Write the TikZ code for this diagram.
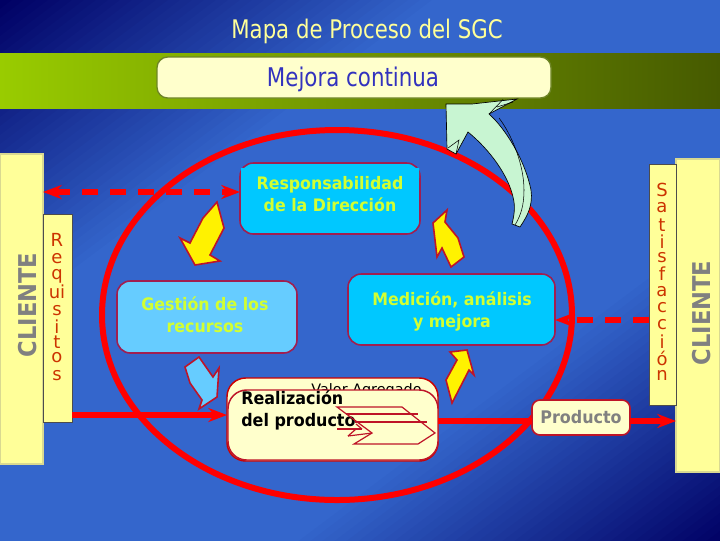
\documentclass[tikz,border=0pt]{standalone}
\usepackage{fontspec}
\usetikzlibrary{shapes.geometric,arrows.meta}
\setmainfont{DejaVu Sans}
\newfontfamily\condf[FakeStretch=0.83]{DejaVu Sans}
\newfontfamily\boldf[FakeStretch=0.92]{DejaVu Sans Bold}
\definecolor{navy}{RGB}{0,0,100}
\definecolor{midblue}{RGB}{52,102,204}
\definecolor{lime}{RGB}{153,204,0}
\definecolor{olive}{RGB}{70,90,0}
\definecolor{cream}{RGB}{255,255,204}
\definecolor{pale}{RGB}{255,255,153}
\definecolor{cyanb}{RGB}{0,200,255}
\definecolor{skyb}{RGB}{102,204,255}
\definecolor{edge}{RGB}{160,30,80}
\definecolor{rline}{RGB}{255,0,0}
\definecolor{crim}{RGB}{190,20,40}
\definecolor{ytext}{RGB}{210,255,50}
\definecolor{letter}{RGB}{204,51,0}
\definecolor{mint}{RGB}{200,245,210}
\tikzset{
  x=0.75pt,y=-0.75pt,
  sz/.style 2 args={minimum width=#1*0.75pt,minimum height=#2*0.75pt,inner sep=0pt,outer sep=0pt},
  procbox/.style={draw=edge,line width=1.2pt,rounded corners=10pt},
  proctxt/.style={align=center,text=ytext,inner sep=0pt,font=\boldf\fontsize{12.9}{16.4}\selectfont},
  clientbar/.style={draw=pale!70!gray,fill=pale,line width=0.8pt},
  sidebar/.style={draw=black!70,fill=pale,line width=0.6pt},
  clienttxt/.style={rotate=90,text=gray,inner sep=0pt,font=\boldf\fontsize{18.4}{20}\selectfont},
  letr/.style={text=letter,inner sep=0pt,font=\fontsize{13.5}{14}\selectfont},
  redline/.style={draw=rline,line width=4pt},
  headtip/.style={-{Stealth[length=14pt,width=10.5pt]}},
  bothtip/.style={{Stealth[length=14pt,width=10.5pt]}-{Stealth[length=14pt,width=10.5pt]}},
  dashline/.style={dash pattern=on 12pt off 9pt},
  yarrow/.style={fill=yellow,draw=crim,line width=1.2pt,line join=miter},
  barrow/.style={fill=skyb,draw=crim,line width=1.2pt},
  chev/.style={draw=crim,line width=0.9pt},
}
\begin{document}
\begin{tikzpicture}
\useasboundingbox (0,0) rectangle (720,540);
% background: diagonal gradient with iso-lines parallel to the anti-diagonal
\begin{scope}
\clip (0,0) rectangle (720,540);
\fill[navy] (0,0) rectangle (720,540);
\foreach \i in {1,...,120}{
  \pgfmathsetmacro{\tt}{\i/120}
  \pgfmathsetmacro{\mixv}{100*min(1,min(\tt,1-\tt)/0.3)}
  \pgfmathsetmacro{\xe}{1440*\tt}
  \pgfmathsetmacro{\ye}{1080*\tt}
  \colorlet{stripc}{midblue!\mixv!navy}
  \fill[stripc] (\xe,0) -- (1500,0) -- (1500,1200) -- (0,1200) -- (0,\ye) -- cycle;
}
\end{scope}
% band
\path[left color=lime,right color=olive] (0,53) rectangle (720,108);
\node (title) at (367,31.5) [text=pale,font=\condf\fontsize{19.2}{20}\selectfont] {Mapa de Proceso del SGC};
\node (mejora) at (354,77.5) [sz={394}{41},fill=cream,draw=olive!60!lime!70!gray,line width=1pt,rounded corners=8pt] {};
\node (mejtxt) at (353,79.5) [text={rgb,255:red,50;green,50;blue,190},font=\condf\fontsize{19.3}{20}\selectfont] {Mejora continua};
% ring
\node (ring) at (337,315) [ellipse,sz={470}{370},draw=rline,line width=4.5pt] {};
% boxes
\node (cliL) at (21.5,309) [sz={43}{310},clientbar] {};
\node (cliR) at (698,315.5) [sz={44}{313},clientbar] {};
\node (req) at (57.5,318) [sz={29}{208},sidebar] {};
\node (sat) at (662.5,284.5) [sz={27}{241},sidebar] {};
\node at (28,305) [clienttxt] {CLIENTE};
\node at (701.5,313) [clienttxt] {CLIENTE};
\foreach \l/\yy in {R/240,e/259,q/276,ui/292,s/311,i/327,t/342,o/358,s/376}
  \node at (57,\yy) [letr] {\l};
\foreach \l/\yy in {S/190,a/208,t/225,i/242,s/258,f/274,a/292,c/308,c/325,i/342,ó/358,n/375}
  \node at (662,\yy) [letr] {\l};
\node (real) at (332.5,419.5) [sz={211}{83},fill=cream,draw=rline!80!black,line width=1.1pt,rounded corners=14pt] {};
\node (valor) at (366.5,391) [text=black,font=\fontsize{10.8}{13}\selectfont,inner sep=0pt] {Valor Agregado};
\node (real2) at (333,425) [sz={210}{70},fill=cream,draw=crim,line width=1.1pt,rounded corners=14pt] {};
\node (resp) at (330,198.5) [sz={180}{71},procbox,fill=cyanb] {};
\path[fill=cyanb] (241,168) rectangle (250,178) (410,168) rectangle (419,178);
\node (resptxt) at (330,194) [proctxt] {Responsabilidad\\de la Dirección};
\node (gest) at (207,317) [sz={180}{72},procbox,fill=skyb] {};
\node (gesttxt) at (205,315) [proctxt] {Gestión de los\\recursos};
\node (medi) at (451.5,309.5) [sz={207}{71},procbox,fill=cyanb] {};
\node (meditxt) at (452,311.5) [proctxt] {Medición, análisis\\y mejora};
% connectors
\coordinate (da) at (100,192);
\coordinate (db) at (600,320);
\coordinate (dc) at (100,415);
\coordinate (dd) at (500,421);
\draw[redline,dashline,bothtip] (cliL.east |- da) -- (resp.west |- da);
\draw[redline,dashline,headtip] (sat.west |- db) -- (medi.east |- db);
\draw[redline,headtip] (req.east |- dc) -- (real.west |- dc);
\node (prod) at (581,417.5) [sz={98}{35},fill=cream,draw=crim,line width=1.2pt,rounded corners=6pt,text=gray,
  font=\boldf\fontsize{13}{14}\selectfont] {Producto};
\draw[redline] (real.east |- dd) -- (prod.west |- dd);
\draw[redline,headtip] (prod.east |- dd) -- (cliR.west |- dd);
% realización text and chevrons
\node (rtxt) at (241,410.5) [anchor=west,align=left,inner sep=0pt,text=black,font=\boldf\fontsize{13}{16}\selectfont] {Realización\\del producto};
\draw[chev] (337,407) -- (402,407) -- (435,433) -- (418,444) -- (354,444) -- (372,433) -- cycle;
\draw[chev] (346,414) -- (418,414);
\draw[chev] (355,422) -- (427,422);
\draw[chev] (337,429) -- (362,429);
\draw[chev] (362,429) -- (356,424);
\draw[chev] (348,436) -- (372,433);
\draw[chev] (348,436) -- (356,429);
% process arrows
\draw[yarrow] (217,202) -- (224,228) -- (210,255) -- (220,261) -- (195,265) -- (180,238) -- (190,243) -- (203,218) -- cycle;
\draw[barrow] (185,367) -- (199,357) -- (213,377) -- (219,368) -- (217,397) -- (199,409) -- (202,400) -- (190,383) -- cycle;
\draw[yarrow] (450,352) -- (467,350) -- (474,375) -- (469,370) -- (452,403) -- (446,380) -- (457,360) -- cycle;
\draw[yarrow] (433,223) -- (447,210) -- (445,222) -- (458,238) -- (464,257) -- (451,267) -- (442,248) -- (437,257) -- cycle;
% green arrow
\draw[fill=mint,draw=black,line width=0.5pt]
  (446,104) -- (472,104) -- (517,99) -- (489,114) .. controls (505,128) and (525,160) .. (531,190)
  .. controls (533,205) and (528,215) .. (520,227) -- (512,224) .. controls (515,212) and (515,205) .. (513,197)
  .. controls (508,175) and (490,150) .. (468,132) -- (456,154) -- (447,149) -- cycle;
\draw[black,line width=0.4pt] (503,99.5) -- (489,114) (513,102) -- (497,107) (456,154) -- (459,140) -- (448,148)
  (499,118) .. controls (512,135) and (524,165) .. (524,190) .. controls (524,205) and (521,215) .. (515,225);
\end{tikzpicture}
\end{document}
